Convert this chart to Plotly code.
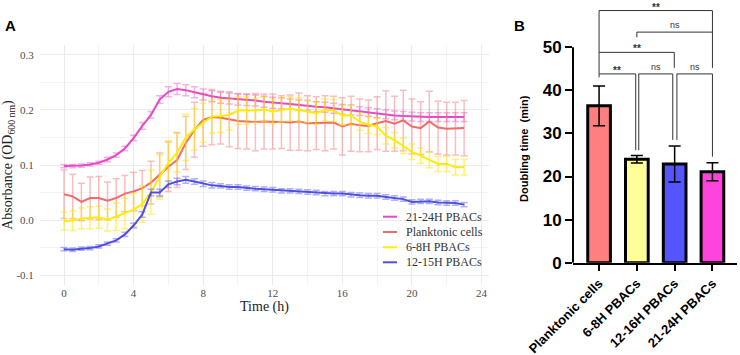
import plotly.graph_objects as go

# ---------------- Panel A data ----------------
time_h = [0, 0.5, 1, 1.5, 2, 2.5, 3, 3.5, 4, 4.5, 5, 5.5, 6, 6.5, 7, 7.5, 8, 8.5, 9, 9.5,
          10, 10.5, 11, 11.5, 12, 12.5, 13, 13.5, 14, 14.5, 15, 15.5, 16, 16.5, 17, 17.5,
          18, 18.5, 19, 19.5, 20, 20.5, 21, 21.5, 22, 22.5, 23]

pbac_21_24 = [0.098, 0.098, 0.099, 0.101, 0.104, 0.110, 0.118, 0.130, 0.149, 0.171,
              0.191, 0.219, 0.233, 0.238, 0.236, 0.232, 0.228, 0.225, 0.222, 0.221,
              0.219, 0.218, 0.217, 0.215, 0.213, 0.212, 0.211, 0.209, 0.208, 0.206,
              0.205, 0.203, 0.201, 0.200, 0.198, 0.196, 0.194, 0.192, 0.190, 0.189,
              0.188, 0.187, 0.187, 0.187, 0.187, 0.187, 0.187]
pbac_21_24_err = [0.003, 0.003, 0.003, 0.003, 0.003, 0.004, 0.004, 0.004, 0.005, 0.006,
                  0.006, 0.007, 0.009, 0.010, 0.010, 0.010, 0.010, 0.010, 0.010, 0.010,
                  0.010, 0.010, 0.010, 0.010, 0.010, 0.010, 0.009, 0.009, 0.009, 0.009,
                  0.009, 0.009, 0.009, 0.009, 0.008, 0.008, 0.008, 0.008, 0.008, 0.008,
                  0.008, 0.008, 0.008, 0.008, 0.008, 0.008, 0.008]

planktonic = [0.047, 0.043, 0.033, 0.040, 0.040, 0.035, 0.040, 0.048, 0.052, 0.058,
              0.068, 0.082, 0.097, 0.109, 0.140, 0.164, 0.182, 0.187, 0.186, 0.183,
              0.180, 0.179, 0.178, 0.179, 0.179, 0.178, 0.177, 0.179, 0.176, 0.176,
              0.176, 0.177, 0.170, 0.175, 0.172, 0.171, 0.176, 0.180, 0.175, 0.181,
              0.170, 0.167, 0.179, 0.168, 0.166, 0.166, 0.167]
planktonic_err = [0.044, 0.040, 0.034, 0.038, 0.039, 0.034, 0.035, 0.033, 0.035, 0.032,
                  0.039, 0.040, 0.045, 0.050, 0.048, 0.050, 0.048, 0.050, 0.048, 0.050,
                  0.050, 0.050, 0.052, 0.050, 0.050, 0.048, 0.050, 0.052, 0.050, 0.048,
                  0.050, 0.048, 0.052, 0.050, 0.048, 0.047, 0.048, 0.055, 0.050, 0.055,
                  0.050, 0.048, 0.055, 0.048, 0.048, 0.048, 0.050]

pbac_6_8 = [-0.002, -0.001, 0.003, 0.004, 0.005, 0.000, 0.006, 0.012, 0.019, 0.029,
            0.051, 0.078, 0.104, 0.122, 0.150, 0.165, 0.177, 0.188, 0.189, 0.191,
            0.199, 0.199, 0.199, 0.201, 0.197, 0.200, 0.202, 0.200, 0.197, 0.194,
            0.200, 0.199, 0.190, 0.190, 0.179, 0.173, 0.170, 0.153, 0.145, 0.135,
            0.124, 0.117, 0.109, 0.102, 0.102, 0.096, 0.096]
pbac_6_8_err = [0.016, 0.018, 0.019, 0.020, 0.020, 0.020, 0.025, 0.028, 0.030, 0.033,
                0.040, 0.040, 0.040, 0.035, 0.042, 0.038, 0.035, 0.030, 0.030, 0.028,
                0.025, 0.025, 0.022, 0.022, 0.022, 0.022, 0.022, 0.022, 0.020, 0.020,
                0.020, 0.020, 0.018, 0.018, 0.016, 0.016, 0.015, 0.015, 0.014, 0.014,
                0.014, 0.014, 0.014, 0.014, 0.014, 0.014, 0.014]

pbac_12_15 = [-0.053, -0.054, -0.052, -0.051, -0.048, -0.043, -0.037, -0.026, -0.010, 0.010,
              0.050, 0.050, 0.065, 0.070, 0.073, 0.070, 0.066, 0.063, 0.062, 0.060,
              0.060, 0.058, 0.057, 0.056, 0.055, 0.053, 0.053, 0.052, 0.051, 0.050,
              0.048, 0.048, 0.048, 0.046, 0.045, 0.044, 0.044, 0.042, 0.040, 0.038,
              0.033, 0.034, 0.034, 0.032, 0.031, 0.031, 0.028]
pbac_12_15_err = [0.003, 0.003, 0.003, 0.003, 0.003, 0.003, 0.003, 0.004, 0.004, 0.005,
                  0.006, 0.006, 0.006, 0.006, 0.006, 0.005, 0.005, 0.005, 0.004, 0.004,
                  0.004, 0.004, 0.004, 0.004, 0.004, 0.004, 0.004, 0.004, 0.004, 0.004,
                  0.004, 0.004, 0.004, 0.004, 0.004, 0.004, 0.004, 0.004, 0.004, 0.004,
                  0.004, 0.004, 0.004, 0.004, 0.004, 0.004, 0.004]

series_names = ["21-24H PBACs", "Planktonic cells", "6-8H PBACs", "12-15H PBACs"]
series_vals = [pbac_21_24, planktonic, pbac_6_8, pbac_12_15]
series_errs = [pbac_21_24_err, planktonic_err, pbac_6_8_err, pbac_12_15_err]
line_colors = ["#E64AC6", "#F26B6B", "#FFEC00", "#4F4FE6"]
err_colors = ["rgba(232,80,200,0.45)", "rgba(244,110,110,0.45)",
              "rgba(255,232,0,0.55)", "rgba(80,80,232,0.45)"]

# ---------------- Panel B data ----------------
groups = ["Planktonic cells", "6-8H PBACs", "12-16H PBACs", "21-24H PBACs"]
doubling_time = [36.4, 24.0, 22.9, 21.1]
doubling_sd = [4.6, 0.85, 4.2, 2.1]
bar_colors = ["#FF7F7F", "#FFFF99", "#5555FF", "#FF44DD"]
y_ticks_b = [0, 10, 20, 30, 40, 50]

fig = go.Figure()

for name, vals, errs, lc, ec in zip(series_names, series_vals, series_errs, line_colors, err_colors):
    fig.add_trace(go.Scatter(
        x=time_h, y=vals, name=name, mode="lines",
        line=dict(color=lc, width=2),
        error_y=dict(type="data", array=errs, visible=True, color=ec, thickness=1.5, width=3.5),
        xaxis="x", yaxis="y", showlegend=False))

fig.add_trace(go.Bar(
    x=list(range(len(groups))), y=doubling_time, width=0.6,
    marker=dict(color=bar_colors, line=dict(color="black", width=3)),
    error_y=dict(type="data", array=doubling_sd, visible=True, color="black", thickness=1.5, width=6),
    xaxis="x2", yaxis="y2", showlegend=False))

W, H = 740, 355
serif = "Liberation Serif"
sans = "Liberation Sans"
grid_c = "#EBEBEB"

fig.update_layout(
    width=W, height=H, margin=dict(l=0, r=0, t=0, b=0),
    paper_bgcolor="white", plot_bgcolor="white", showlegend=False,
    xaxis=dict(domain=[40 / W, 489 / W], range=[-1.38, 24.43], anchor="y", automargin=False,
               tickvals=[0, 4, 8, 12, 16, 20, 24], showgrid=True, gridcolor=grid_c, gridwidth=1.2,
               minor=dict(dtick=2, tick0=0, showgrid=True, gridcolor="#F4F4F4", gridwidth=1),
               zeroline=False, showline=False, ticks="", 
               tickfont=dict(family=serif, size=11, color="#4D4D4D"),
               title=dict(text="Time (h)", font=dict(family=serif, size=14, color="#222"), standoff=1)),
    yaxis=dict(domain=[1 - 285 / H, 1 - 45 / H], range=[-0.118, 0.318], anchor="x", automargin=False,
               tickvals=[-0.1, 0.0, 0.1, 0.2, 0.3], ticktext=["-0.1", "0.0", "0.1", "0.2", "0.3"],
               showgrid=True, gridcolor=grid_c, gridwidth=1.2,
               minor=dict(dtick=0.05, tick0=0, showgrid=True, gridcolor="#F4F4F4", gridwidth=1),
               zeroline=False, showline=False, ticks="outside", ticklen=3, tickcolor="rgba(0,0,0,0)",
               tickfont=dict(family=serif, size=11, color="#4D4D4D"),
               title=dict(text="Absorbance (OD<sub>600 nm</sub>)", font=dict(family=serif, size=14, color="#222"),
                          standoff=4)),
    xaxis2=dict(domain=[573 / W, 737 / W], range=[-0.69, 3.65], anchor="y2", automargin=False,
                tickvals=list(range(len(groups))), ticktext=groups, tickangle=-45,
                showgrid=False, zeroline=False, showline=True, linecolor="black", linewidth=2,
                ticks="outside", ticklen=6, tickwidth=1.5, tickcolor="black",
                tickfont=dict(family=sans, size=13, color="black", weight="bold")),
    yaxis2=dict(domain=[1 - 262.7 / H, 1 - 4.1 / H], range=[0, 60], anchor="x2", automargin=False,
                tickvals=y_ticks_b, showgrid=False, zeroline=False, showline=False,
                ticks="outside", ticklen=7, tickwidth=2, tickcolor="black",
                tickfont=dict(family=sans, size=17, color="black", weight="bold")),
    bargap=0.3,
)

# legend of panel A (drawn as swatches + labels)
legend_y_px = [216.7, 232, 247.3, 262.3]
for name, lc, ypx in zip(series_names, line_colors, legend_y_px):
    fig.add_shape(type="line", xref="paper", yref="paper",
                  x0=383 / W, x1=397 / W, y0=1 - ypx / H, y1=1 - ypx / H,
                  line=dict(color=lc, width=2))
    fig.add_annotation(x=404 / W, y=1 - ypx / H, xref="paper", yref="paper", text=name,
                       showarrow=False, xanchor="left", yanchor="middle",
                       font=dict(family=serif, size=12, color="#333"))

# y axis line of panel B (0-50 only)
fig.add_shape(type="line", xref="x2 domain", yref="y2", x0=0, x1=0, y0=0, y1=50,
              line=dict(color="black", width=2))

# significance brackets (x in group index, y in minutes)
brackets = [
    # (x_left, x_right, y_bar, y_left_bottom, y_right_bottom)
    (0.0, 0.97, 43.8, 43.0, 26.1),
    (1.05, 1.95, 43.8, 26.1, 28.5),
    (2.06, 3.0, 43.8, 28.5, 24.6),
    (0.0, 1.99, 48.8, 43.8, 45.2),
    (1.0, 3.0, 53.5, 52.3, 45.2),
    (0.0, 3.0, 58.5, 48.8, 53.5),
]
labels = ["**", "ns", "ns", "**", "ns", "**"]
for (xl, xr, yb, yl, yr), lab in zip(brackets, labels):
    fig.add_shape(type="path", xref="x2", yref="y2",
                  path=f"M {xl} {yl} L {xl} {yb} L {xr} {yb} L {xr} {yr}",
                  line=dict(color="#333", width=1))
    fig.add_annotation(x=(xl + xr) / 2, y=yb, xref="x2", yref="y2", text=lab, showarrow=False,
                       xanchor="center", yanchor="bottom", yshift=-4 if lab == "**" else 0,
                       font=dict(family=sans, size=10 if lab == "**" else 9, color="#333",
                                 weight="bold" if lab == "**" else "normal"))

fig.add_annotation(x=524 / W, y=26.4, xref="paper", yref="y2", text="Doubling time  (min)",
                   textangle=-90, showarrow=False, xanchor="center", yanchor="middle",
                   font=dict(family=sans, size=11, color="black", weight="bold"))

fig.add_annotation(x=3 / W, y=1 - 25 / H, xref="paper", yref="paper", text="A", showarrow=False,
                   xanchor="left", yanchor="middle", font=dict(family=sans, size=15, color="black", weight="bold"))
fig.add_annotation(x=512 / W, y=1 - 25 / H, xref="paper", yref="paper", text="B", showarrow=False,
                   xanchor="left", yanchor="middle", font=dict(family=sans, size=15, color="black", weight="bold"))

fig.write_html("out.html")
